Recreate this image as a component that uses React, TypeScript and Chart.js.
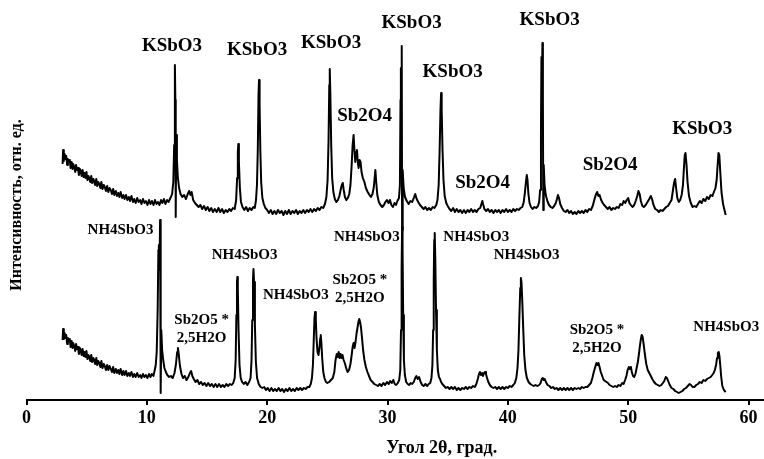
import { useEffect, useRef } from 'react';
import { Chart, registerables } from 'chart.js';

Chart.register(...registerables);

// Diffraction angle (2θ, degrees) and intensity (arb. units) — upper pattern (KSbO3 product)
const topPattern: [number, number][] = [
  [3.0, 236], [3.04, 250], [3.1, 239], [3.17, 246], [3.22, 241], [3.3, 244], [3.38, 235], [3.44, 241],
  [3.52, 238], [3.6, 240], [3.66, 232], [3.75, 238], [3.83, 231], [3.88, 236], [3.97, 233], [4.05, 228],
  [4.12, 235], [4.2, 230], [4.28, 232], [4.35, 225], [4.44, 231], [4.5, 229], [4.58, 224], [4.66, 230],
  [4.75, 223], [4.82, 227], [4.9, 222], [4.98, 228], [5.07, 220], [5.14, 224], [5.22, 222], [5.3, 218],
  [5.38, 224], [5.46, 217], [5.55, 221], [5.62, 219], [5.7, 215], [5.8, 221], [5.88, 214], [5.96, 218],
  [6.05, 216], [6.14, 212], [6.22, 218], [6.32, 211], [6.42, 215], [6.5, 213], [6.6, 209], [6.7, 214],
  [6.8, 208], [6.9, 212], [7.0, 210], [7.1, 206], [7.2, 211], [7.3, 205], [7.42, 209], [7.52, 204],
  [7.62, 207], [7.72, 203], [7.82, 208], [7.95, 202], [8.05, 205], [8.15, 201], [8.27, 205], [8.38, 200],
  [8.5, 203], [8.6, 199], [8.72, 204], [8.85, 198], [8.95, 201], [9.07, 197], [9.2, 202], [9.32, 198],
  [9.45, 200], [9.55, 196], [9.68, 201], [9.8, 197], [9.92, 199], [10.05, 195], [10.18, 200], [10.3, 196],
  [10.42, 199], [10.55, 195], [10.68, 200], [10.8, 196], [10.92, 198], [11.05, 195], [11.18, 200], [11.3, 197],
  [11.42, 201], [11.55, 196], [11.68, 200], [11.8, 198], [11.92, 201], [12.0, 203],
  [12.1, 206], [12.2, 218], [12.27, 255], [12.33, 335], [12.37, 300], [12.4, 183], [12.44, 265], [12.5, 240],
  [12.58, 222], [12.68, 212], [12.8, 206], [12.95, 203], [13.1, 205], [13.25, 201], [13.4, 206], [13.52, 209],
  [13.62, 205], [13.72, 208], [13.85, 200], [14.0, 197], [14.15, 195], [14.3, 193], [14.45, 195], [14.6, 191],
  [14.75, 194], [14.9, 190], [15.05, 193], [15.2, 189], [15.35, 192], [15.5, 188], [15.65, 191], [15.8, 188],
  [15.95, 192], [16.1, 188], [16.25, 191], [16.4, 187], [16.55, 190], [16.7, 188], [16.85, 191], [17.0, 189],
  [17.15, 192], [17.3, 191], [17.42, 200], [17.5, 222], [17.56, 248], [17.6, 256], [17.65, 238], [17.73, 212],
  [17.82, 198], [17.95, 193], [18.1, 190], [18.25, 193], [18.4, 189], [18.55, 192], [18.7, 190], [18.85, 193],
  [18.97, 192], [19.07, 200], [19.15, 215], [19.22, 250], [19.28, 305], [19.32, 320], [19.37, 295], [19.43, 250],
  [19.5, 218], [19.6, 202], [19.72, 196], [19.85, 192], [20.0, 190], [20.15, 187], [20.3, 190], [20.45, 186],
  [20.6, 189], [20.75, 186], [20.9, 190], [21.05, 187], [21.2, 189], [21.35, 185], [21.5, 189], [21.65, 186],
  [21.8, 190], [21.95, 186], [22.1, 189], [22.25, 187], [22.4, 190], [22.55, 186], [22.7, 189], [22.85, 187],
  [23.0, 190], [23.15, 187], [23.3, 190], [23.45, 188], [23.6, 191], [23.75, 188], [23.9, 191], [24.05, 189],
  [24.2, 192], [24.35, 190], [24.5, 193], [24.65, 192], [24.8, 196], [24.92, 203], [25.02, 220], [25.1, 260],
  [25.16, 315], [25.2, 331], [25.25, 305], [25.32, 255], [25.4, 222], [25.5, 208], [25.62, 201], [25.75, 198],
  [25.88, 200], [26.0, 204], [26.1, 210], [26.2, 215], [26.28, 217], [26.36, 210], [26.46, 203], [26.58, 200],
  [26.7, 202], [26.82, 206], [26.92, 215], [27.02, 235], [27.1, 255], [27.18, 265], [27.25, 250], [27.32, 238],
  [27.4, 248], [27.46, 250], [27.53, 238], [27.6, 232], [27.68, 240], [27.76, 238], [27.84, 228], [27.95, 222],
  [28.08, 218], [28.2, 212], [28.35, 208], [28.5, 205], [28.62, 203], [28.75, 206], [28.85, 212], [28.93, 222],
  [28.99, 230], [29.06, 218], [29.15, 205], [29.28, 198], [29.42, 195], [29.56, 193], [29.7, 195], [29.82, 198],
  [29.95, 200], [30.08, 197], [30.2, 200], [30.32, 195], [30.45, 193], [30.58, 197], [30.7, 195], [30.82, 199],
  [30.95, 202], [31.03, 215], [31.08, 300], [31.11, 332], [31.14, 295], [31.18, 354], [31.21, 170], [31.26, 230],
  [31.34, 212], [31.45, 203], [31.6, 199], [31.75, 196], [31.9, 199], [32.05, 198], [32.18, 202], [32.3, 206],
  [32.42, 201], [32.55, 198], [32.7, 195], [32.85, 193], [33.0, 191], [33.15, 193], [33.3, 190], [33.45, 192],
  [33.6, 190], [33.75, 193], [33.9, 192], [34.05, 195], [34.15, 200], [34.25, 215], [34.33, 250], [34.4, 290],
  [34.45, 307], [34.5, 290], [34.57, 250], [34.65, 220], [34.75, 204], [34.88, 197], [35.0, 194], [35.15, 191],
  [35.3, 189], [35.45, 192], [35.6, 188], [35.75, 191], [35.9, 188], [36.05, 190], [36.2, 187], [36.35, 190],
  [36.5, 187], [36.65, 190], [36.8, 188], [36.95, 191], [37.1, 188], [37.25, 190], [37.4, 188], [37.55, 191],
  [37.7, 192], [37.8, 196], [37.88, 199], [37.96, 195], [38.05, 191], [38.2, 189], [38.35, 191], [38.5, 188],
  [38.65, 190], [38.8, 187], [38.95, 190], [39.1, 188], [39.25, 190], [39.4, 187], [39.55, 190], [39.7, 188],
  [39.85, 191], [40.0, 188], [40.15, 190], [40.3, 188], [40.45, 191], [40.6, 189], [40.75, 191], [40.9, 190],
  [41.05, 192], [41.2, 193], [41.32, 198], [41.42, 208], [41.5, 218], [41.57, 225], [41.63, 220], [41.7, 207],
  [41.8, 197], [41.92, 193], [42.05, 191], [42.2, 193], [42.35, 192], [42.5, 194], [42.6, 198], [42.68, 210],
  [42.75, 270], [42.79, 343], [42.83, 310], [42.87, 357], [42.91, 300], [42.94, 190], [42.98, 235], [43.05, 215],
  [43.15, 205], [43.28, 199], [43.42, 195], [43.56, 193], [43.7, 192], [43.85, 194], [43.98, 197], [44.08, 201],
  [44.16, 205], [44.25, 202], [44.35, 196], [44.5, 192], [44.65, 189], [44.8, 188], [44.95, 190], [45.1, 187],
  [45.25, 189], [45.4, 186], [45.55, 188], [45.7, 186], [45.85, 189], [46.0, 187], [46.15, 189], [46.3, 187],
  [46.45, 190], [46.6, 188], [46.75, 191], [46.9, 190], [47.05, 194], [47.18, 200], [47.3, 205], [47.42, 208],
  [47.52, 204], [47.62, 205], [47.75, 200], [47.88, 197], [48.0, 195], [48.15, 193], [48.3, 191], [48.45, 193],
  [48.6, 190], [48.75, 192], [48.9, 191], [49.05, 193], [49.2, 192], [49.35, 196], [49.5, 195], [49.62, 199],
  [49.75, 197], [49.88, 200], [50.0, 202], [50.1, 197], [50.22, 195], [50.35, 193], [50.5, 195], [50.62, 199],
  [50.75, 204], [50.85, 209], [50.95, 206], [51.05, 199], [51.18, 194], [51.3, 193], [51.45, 195], [51.6, 198],
  [51.75, 201], [51.88, 204], [51.98, 201], [52.1, 195], [52.25, 191], [52.4, 190], [52.55, 188], [52.7, 190],
  [52.85, 189], [53.0, 191], [53.15, 193], [53.3, 194], [53.45, 197], [53.6, 200], [53.72, 210], [53.82, 218],
  [53.9, 221], [53.98, 212], [54.08, 202], [54.2, 198], [54.32, 200], [54.44, 205], [54.55, 215], [54.63, 232],
  [54.7, 245], [54.76, 247], [54.84, 236], [54.93, 218], [55.05, 204], [55.2, 197], [55.35, 193], [55.5, 194],
  [55.65, 193], [55.8, 196], [55.95, 199], [56.1, 197], [56.25, 201], [56.4, 199], [56.55, 203], [56.7, 201],
  [56.85, 205], [57.0, 204], [57.12, 208], [57.25, 212], [57.35, 220], [57.43, 235], [57.5, 247], [57.57, 245],
  [57.65, 228], [57.75, 208], [57.88, 196], [58.0, 190], [58.1, 185],
];

// Lower pattern (NH4SbO3 precursor)
const bottomPattern: [number, number][] = [
  [3.0, 60], [3.04, 71], [3.1, 61], [3.17, 67], [3.22, 62], [3.3, 65], [3.38, 56], [3.44, 62],
  [3.52, 59], [3.6, 61], [3.66, 53], [3.75, 59], [3.83, 52], [3.88, 57], [3.97, 54], [4.05, 49],
  [4.12, 56], [4.2, 51], [4.28, 53], [4.35, 46], [4.44, 52], [4.5, 50], [4.58, 45], [4.66, 51],
  [4.75, 44], [4.82, 48], [4.9, 43], [4.98, 49], [5.07, 41], [5.14, 45], [5.22, 43], [5.3, 39],
  [5.38, 45], [5.46, 38], [5.55, 42], [5.62, 40], [5.7, 36], [5.8, 42], [5.88, 35], [5.96, 39],
  [6.05, 37], [6.14, 33], [6.22, 39], [6.32, 32], [6.42, 36], [6.5, 34], [6.6, 30], [6.7, 35],
  [6.8, 30], [6.9, 34], [7.0, 31], [7.1, 28], [7.2, 33], [7.3, 27], [7.42, 31], [7.52, 27],
  [7.62, 30], [7.72, 26], [7.82, 31], [7.95, 25], [8.05, 29], [8.15, 25], [8.27, 29], [8.38, 24],
  [8.5, 27], [8.6, 24], [8.72, 28], [8.85, 23], [8.95, 26], [9.07, 23], [9.2, 27], [9.32, 23],
  [9.45, 25], [9.55, 22], [9.68, 26], [9.8, 23], [9.92, 25], [10.05, 22], [10.18, 26], [10.3, 23],
  [10.42, 26], [10.55, 24], [10.64, 29], [10.74, 35],
  [10.82, 48], [10.9, 90], [10.96, 150], [11.0, 155], [11.05, 130], [11.1, 180], [11.15, 7], [11.2, 70],
  [11.27, 50], [11.36, 40], [11.46, 32], [11.58, 28], [11.7, 25], [11.85, 23], [12.0, 24], [12.15, 22],
  [12.3, 27], [12.42, 36], [12.52, 48], [12.58, 52], [12.65, 46], [12.75, 34], [12.88, 26], [13.0, 22],
  [13.15, 24], [13.3, 20], [13.45, 23], [13.58, 27], [13.68, 29], [13.78, 24], [13.9, 21], [14.05, 18],
  [14.2, 20], [14.35, 16], [14.5, 18], [14.65, 15], [14.8, 17], [14.95, 14], [15.1, 17], [15.25, 14],
  [15.4, 16], [15.55, 13], [15.7, 16], [15.85, 13], [16.0, 16], [16.15, 13], [16.3, 15], [16.45, 13],
  [16.6, 16], [16.75, 14], [16.9, 16], [17.05, 15], [17.18, 17], [17.3, 22], [17.38, 40], [17.44, 85],
  [17.49, 118], [17.52, 123], [17.56, 110], [17.62, 70], [17.7, 35], [17.8, 22], [17.92, 18], [18.05, 16],
  [18.2, 18], [18.35, 15], [18.5, 18], [18.62, 22], [18.7, 40], [18.76, 80], [18.82, 120], [18.86, 131],
  [18.91, 118], [18.98, 75], [19.06, 38], [19.16, 22], [19.3, 16], [19.45, 13], [19.6, 12], [19.75, 13],
  [19.9, 10], [20.05, 12], [20.2, 9], [20.35, 12], [20.5, 9], [20.65, 11], [20.8, 9], [20.95, 12],
  [21.1, 9], [21.25, 11], [21.4, 8], [21.55, 11], [21.7, 9], [21.85, 12], [22.0, 9], [22.15, 11],
  [22.3, 9], [22.45, 12], [22.6, 10], [22.75, 12], [22.9, 10], [23.05, 12], [23.2, 11], [23.35, 13],
  [23.5, 13], [23.62, 16], [23.72, 22], [23.8, 35], [23.87, 60], [23.93, 82], [23.98, 88], [24.04, 80],
  [24.1, 62], [24.18, 48], [24.26, 45], [24.34, 52], [24.41, 62], [24.45, 65], [24.5, 58], [24.57, 42],
  [24.66, 28], [24.76, 22], [24.88, 18], [25.0, 17], [25.15, 18], [25.3, 20], [25.45, 22], [25.58, 28],
  [25.68, 40], [25.78, 46], [25.86, 43], [25.94, 48], [26.02, 42], [26.1, 46], [26.18, 42], [26.26, 45],
  [26.35, 40], [26.45, 37], [26.56, 32], [26.68, 28], [26.8, 30], [26.92, 36], [27.02, 45], [27.1, 53],
  [27.18, 57], [27.26, 52], [27.34, 58], [27.42, 66], [27.5, 72], [27.58, 78], [27.65, 81], [27.72, 78],
  [27.8, 72], [27.88, 62], [27.97, 50], [28.08, 40], [28.2, 33], [28.33, 28], [28.46, 24], [28.6, 20],
  [28.75, 18], [28.9, 16], [29.05, 15], [29.2, 14], [29.35, 16], [29.5, 14], [29.65, 17], [29.8, 15],
  [29.95, 18], [30.1, 16], [30.22, 19], [30.35, 17], [30.48, 20], [30.6, 16], [30.72, 15], [30.85, 17],
  [30.97, 20], [31.06, 30], [31.12, 70], [31.17, 130], [31.21, 173], [31.25, 150], [31.3, 85], [31.36, 40],
  [31.44, 25], [31.55, 18], [31.68, 16], [31.8, 15], [31.92, 17], [32.05, 16], [32.18, 18], [32.3, 22],
  [32.4, 24], [32.5, 21], [32.62, 23], [32.75, 18], [32.88, 15], [33.0, 14], [33.15, 16], [33.3, 14],
  [33.42, 16], [33.55, 17], [33.65, 22], [33.73, 35], [33.79, 70], [33.84, 120], [33.88, 160], [33.92, 167],
  [33.97, 140], [34.03, 90], [34.1, 50], [34.18, 30], [34.27, 23], [34.36, 21], [34.45, 18], [34.55, 16],
  [34.7, 14], [34.85, 12], [35.0, 13], [35.15, 11], [35.3, 13], [35.45, 11], [35.6, 13], [35.75, 10],
  [35.9, 12], [36.05, 10], [36.2, 12], [36.35, 11], [36.5, 13], [36.65, 11], [36.8, 13], [36.95, 12],
  [37.1, 14], [37.25, 13], [37.38, 16], [37.5, 21], [37.6, 26], [37.68, 28], [37.76, 25], [37.85, 27],
  [37.93, 24], [38.02, 27], [38.1, 28], [38.18, 26], [38.27, 22], [38.38, 18], [38.5, 15], [38.65, 13],
  [38.8, 12], [38.95, 13], [39.1, 11], [39.25, 13], [39.4, 11], [39.55, 13], [39.7, 11], [39.85, 13],
  [40.0, 12], [40.15, 14], [40.3, 13], [40.45, 15], [40.58, 17], [40.7, 22], [40.8, 32], [40.88, 50],
  [40.96, 85], [41.03, 112], [41.08, 122], [41.13, 118], [41.2, 98], [41.28, 70], [41.36, 45], [41.46, 30],
  [41.58, 22], [41.72, 18], [41.86, 16], [42.0, 15], [42.15, 14], [42.3, 15], [42.45, 14], [42.6, 15],
  [42.72, 17], [42.82, 21], [42.9, 22], [42.98, 20], [43.06, 21], [43.16, 18], [43.3, 15], [43.45, 14],
  [43.6, 12], [43.75, 13], [43.9, 11], [44.05, 12], [44.2, 10], [44.35, 12], [44.5, 10], [44.65, 12],
  [44.8, 10], [44.95, 12], [45.1, 10], [45.25, 12], [45.4, 10], [45.55, 12], [45.7, 11], [45.85, 12],
  [46.0, 11], [46.15, 13], [46.3, 12], [46.45, 13], [46.6, 13], [46.75, 15], [46.9, 17], [47.02, 22],
  [47.14, 28], [47.26, 33], [47.36, 37], [47.45, 35], [47.53, 37], [47.62, 33], [47.72, 28], [47.84, 24],
  [47.96, 20], [48.08, 19], [48.2, 18], [48.32, 17], [48.45, 15], [48.6, 14], [48.75, 13], [48.9, 14],
  [49.05, 13], [49.2, 15], [49.35, 14], [49.5, 17], [49.62, 16], [49.74, 20], [49.85, 24], [49.95, 30],
  [50.05, 33], [50.13, 31], [50.22, 33], [50.3, 28], [50.4, 24], [50.5, 23], [50.6, 26], [50.7, 32],
  [50.8, 38], [50.88, 45], [50.96, 53], [51.04, 60], [51.12, 65], [51.2, 63], [51.28, 56], [51.38, 46],
  [51.5, 36], [51.62, 30], [51.75, 27], [51.88, 24], [52.0, 21], [52.15, 18], [52.3, 16], [52.45, 15],
  [52.6, 14], [52.75, 15], [52.88, 17], [53.0, 19], [53.12, 23], [53.22, 22], [53.32, 19], [53.45, 15],
  [53.6, 12], [53.75, 11], [53.9, 9], [54.05, 8], [54.2, 7], [54.35, 8], [54.5, 9], [54.65, 11],
  [54.8, 12], [54.95, 14], [55.1, 16], [55.22, 15], [55.35, 13], [55.5, 13], [55.65, 15], [55.8, 16],
  [55.95, 18], [56.1, 17], [56.25, 20], [56.4, 19], [56.55, 21], [56.7, 22], [56.85, 23], [56.98, 25],
  [57.1, 27], [57.2, 30], [57.3, 35], [57.38, 42], [57.45, 47], [57.52, 48], [57.58, 44], [57.64, 36],
  [57.72, 24], [57.82, 14], [57.95, 10], [58.1, 8],
];

const angleTicks = [0, 10, 20, 30, 40, 50, 60];

// Phase identification labels: [text lines, 2θ of label centre, intensity level of first line]
const topPhaseLabels: [string[], number, number][] = [
  [['KSbO3'], 12.09, 354],
  [['KSbO3'], 19.16, 350],
  [['KSbO3'], 25.31, 357],
  [['Sb2O4'], 28.1, 284],
  [['KSbO3'], 32.0, 377],
  [['KSbO3'], 35.41, 328],
  [['Sb2O4'], 37.9, 217],
  [['KSbO3'], 43.47, 380],
  [['Sb2O4'], 48.5, 235],
  [['KSbO3'], 56.15, 271],
];

const bottomPhaseLabels: [string[], number, number][] = [
  [['NH4SbO3'], 7.81, 170],
  [['Sb2O5 *', '2,5H2O'], 14.55, 80],
  [['NH4SbO3'], 18.12, 145],
  [['NH4SbO3'], 22.38, 105],
  [['Sb2O5 *', '2,5H2O'], 27.7, 120],
  [['NH4SbO3'], 28.28, 163],
  [['NH4SbO3'], 37.37, 163],
  [['NH4SbO3'], 41.56, 145],
  [['Sb2O5 *', '2,5H2O'], 47.4, 70],
  [['NH4SbO3'], 58.15, 73],
];

const SERIF = '"Liberation Serif", "Times New Roman", serif';

const phaseLabelPlugin = {
  id: 'phaseLabels',
  afterDatasetsDraw(chart: any) {
    const { ctx, scales } = chart;
    const xs = scales.x;
    const ys = scales.y;
    ctx.save();
    ctx.fillStyle = '#000';
    ctx.textAlign = 'center';
    ctx.textBaseline = 'middle';
    const groups: [[string[], number, number][], number, number][] = [
      [topPhaseLabels, 19, 20],
      [bottomPhaseLabels, 15, 18],
    ];
    for (const [labels, size, gap] of groups) {
      ctx.font = `bold ${size}px ${SERIF}`;
      for (const [lines, angle, level] of labels) {
        const px = xs.getPixelForValue(angle);
        const py = ys.getPixelForValue(level);
        lines.forEach((line, i) => ctx.fillText(line, px, py + i * gap));
      }
    }
    // x-axis caption
    ctx.font = `bold 18px ${SERIF}`;
    ctx.fillText('Угол 2θ, град.', xs.getPixelForValue(34.5), chart.height - 11);
    ctx.restore();
  },
};

export default function App() {
  const canvasRef = useRef<HTMLCanvasElement | null>(null);

  useEffect(() => {
    const canvas = canvasRef.current;
    if (!canvas) return;
    const chart = new Chart(canvas, {
      type: 'line',
      data: {
        datasets: [
          {
            data: topPattern.map(([a, v]) => ({ x: a, y: v })),
            borderColor: '#000',
            borderWidth: 2,
            borderJoinStyle: 'round',
            pointRadius: 0,
            tension: 0,
            clip: false as any,
          },
          {
            data: bottomPattern.map(([a, v]) => ({ x: a, y: v })),
            borderColor: '#000',
            borderWidth: 2,
            borderJoinStyle: 'round',
            pointRadius: 0,
            tension: 0,
            clip: false as any,
          },
        ],
      },
      options: {
        responsive: false,
        animation: false,
        layout: { padding: { top: 10, right: 1, bottom: 0, left: 0 } },
        plugins: { legend: { display: false }, tooltip: { enabled: false } },
        scales: {
          x: {
            type: 'linear',
            min: 0,
            max: 61.2,
            afterBuildTicks: (scale: any) => {
              scale.ticks = angleTicks.map((v) => ({ value: v }));
            },
            afterFit: (scale: any) => {
              scale.height = 59;
            },
            grid: {
              display: true,
              drawOnChartArea: false,
              drawTicks: true,
              tickLength: 5,
              color: '#000',
              lineWidth: 2,
            },
            border: { display: true, color: '#000', width: 2 },
            ticks: {
              color: '#000',
              font: { family: SERIF, size: 18, weight: 'bold' },
              padding: 3,
              maxRotation: 0,
              autoSkip: false,
            },
          },
          y: {
            type: 'linear',
            min: 0,
            max: 390,
            afterFit: (scale: any) => {
              scale.width = 26.5;
            },
            grid: { display: false },
            border: { display: false },
            ticks: { display: false },
            title: {
              display: true,
              text: 'Интенсивность, отн. ед.',
              color: '#000',
              font: { family: SERIF, size: 16, weight: 'bold' },
              padding: { top: 7, bottom: 0 },
            },
          },
        },
      } as any,
      plugins: [phaseLabelPlugin],
    });
    return () => chart.destroy();
  }, []);

  return (
    <div style={{ position: 'fixed', left: 0, top: 0, width: 764, height: 459, background: '#fff' }}>
      <canvas ref={canvasRef} width={764} height={459} />
    </div>
  );
}
